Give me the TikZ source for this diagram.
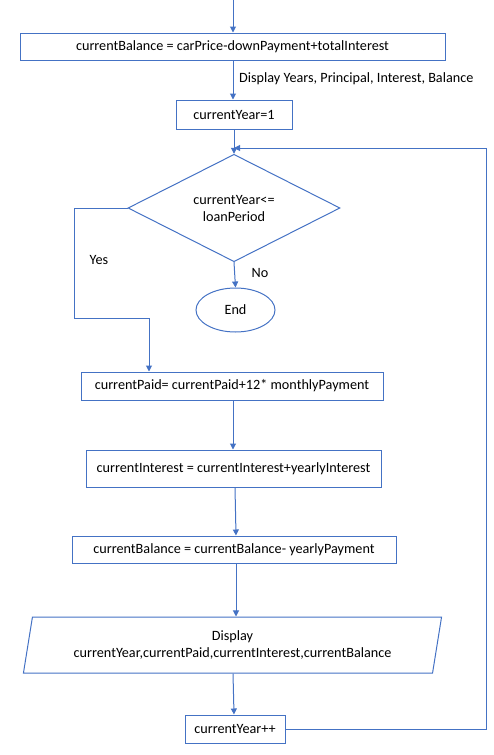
\documentclass[tikz,border=0pt]{standalone}
\usepackage{fontspec}
\setmainfont{Carlito}
\usetikzlibrary{arrows.meta,shapes.geometric}
\definecolor{fcblue}{HTML}{4472C4}
\begin{document}
\begin{tikzpicture}[x=1pt,y=-1pt,
  font=\fontsize{14.2}{18}\selectfont,
  box/.style={draw=fcblue,line width=1pt,inner sep=0pt,minimum height=28pt,text=black},
  conn/.style={draw=fcblue,line width=1pt,-{Triangle[length=6pt,width=6pt]}},
  plain/.style={draw=fcblue,line width=1pt},
  lbl/.style={text=black,inner sep=0pt}]
\useasboundingbox (0,0) rectangle (493,755);
\coordinate (top) at (233,0);
\node[box,minimum width=425pt,minimum height=27pt] (cb) at (232.5,46.5) {currentBalance = carPrice-downPayment+totalInterest};
\node[box,minimum width=116pt,minimum height=29pt] (cy) at (234,114.5) {currentYear=1};
\node[box,shape=diamond,minimum width=212pt,minimum height=88pt,align=center] (dec) at (234,208) {currentYear<=\\[-1pt]loanPeriod};
\node[box,shape=ellipse,minimum width=79pt,minimum height=44pt] (end) at (235.5,310) {End};
\node[box,minimum width=302pt] (cp) at (232,386) {currentPaid= currentPaid+12* monthlyPayment};
\node[box,minimum width=295pt,minimum height=37pt] (ci) at (233.5,468.5) {currentInterest = currentInterest+yearlyInterest};
\node[box,minimum width=324pt,minimum height=27pt] (cb2) at (234,549.5) {currentBalance = currentBalance- yearlyPayment};
\node[box,shape=trapezium,trapezium left angle=76,trapezium right angle=104,trapezium stretches=true,minimum width=419pt,minimum height=56pt,align=center] (disp) at (232.5,645) {Display\\[-1pt]currentYear,currentPaid,currentInterest,currentBalance};
\node[box,minimum width=100pt] (inc) at (235,729) {currentYear++};
% labels
\node[lbl,anchor=west] (l1) at (239,79) {Display Years, Principal, Interest, Balance};
\node[lbl] (lyes) at (99,260) {Yes};
\node[lbl] (lno) at (260,273) {No};
% coordinates
\coordinate (j) at (234,148);
\coordinate (r1) at (486,729);
\coordinate (r2) at (486,148);
\coordinate (y1) at (74,208);
\coordinate (y2) at (74,318);
\coordinate (y3) at (149,318);
% connectors
\draw[conn] (top) -- (top |- cb.north);
\draw[conn] (cb.south -| 233,0) -- (233,0 |- cy.north);
\draw[conn] (cy.south) -- (dec.north);
\draw[conn] (dec.south) -- (end.north);
\draw[conn] (dec.west) -- (y1) -- (y2) -- (y3) -- (y3 |- cp.north);
\draw[conn] (cp.south -| 233,0) -- (233,0 |- ci.north);
\draw[conn] (ci.south -| 235,0) -- (236,0 |- cb2.north);
\draw[conn] (cb2.south -| 236,0) -- (236,0 |- disp.north);
\draw[conn] (disp.south -| 233,0) -- (234,0 |- inc.north);
\draw[conn] (inc.east) -- (r1) -- (r2) -- (j);
\end{tikzpicture}
\end{document}
